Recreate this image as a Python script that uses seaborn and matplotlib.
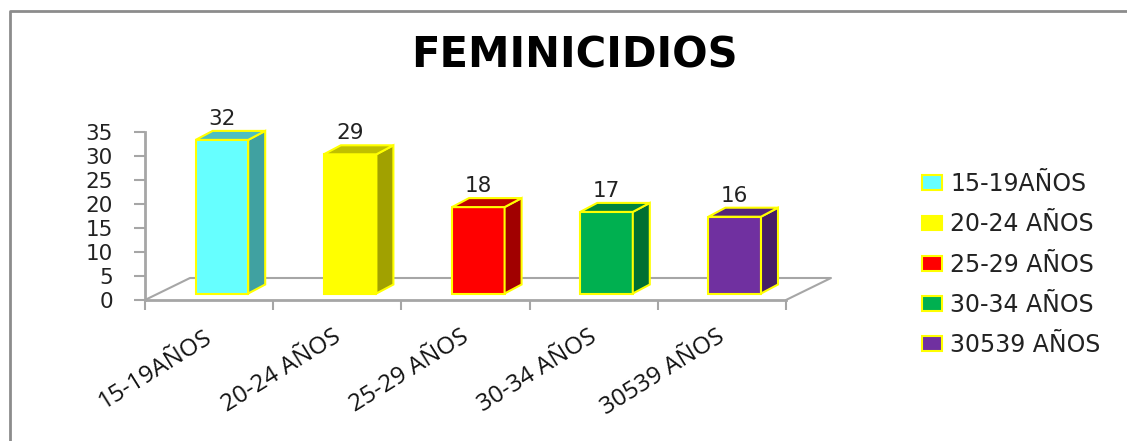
import matplotlib
matplotlib.use('Agg')
import matplotlib.pyplot as plt
from matplotlib.lines import Line2D
from matplotlib.transforms import ScaledTranslation
import numpy as np
import seaborn as sns

rangos = ['15-19AÑOS', '20-24 AÑOS', '25-29 AÑOS', '30-34 AÑOS', '30539 AÑOS']
casos = [32, 29, 18, 17, 16]
colores = ['#66FFFF', '#FFFF00', '#FF0000', '#00B050', '#7030A0']
yticks = [0, 5, 10, 15, 20, 25, 30, 35]

W, H = 1127, 441
sns.set_theme(style='white')
plt.rcParams['font.family'] = 'DejaVu Sans'

fig = plt.figure(figsize=(W / 100, H / 100), dpi=100)
ax = fig.add_axes([145 / W, 1 - 300 / H, 641 / W, 168 / H])

px_x = 5 / 641      # datos x por pixel
px_y = 35 / 168     # datos y por pixel
base = 6.5 * px_y   # la barra arranca un poco dentro del suelo

sns.barplot(x=rangos, y=casos, hue=rangos, palette=colores, dodge=False, width=0.41,
            saturation=1, edgecolor='#FFFF00', linewidth=1.5, ax=ax, legend=True)
ax.set_xlim(-0.6, 4.4)
ax.set_ylim(0, 35)

# caras laterales y superiores
dx = 17 * px_x
dy = 9 * px_y
for cont in ax.containers:
    for p in cont:
        p.set_y(base)
        x0 = p.get_x()
        x1 = x0 + p.get_width()
        y0 = p.get_y()
        y1 = y0 + p.get_height()
        c = np.array(p.get_facecolor()[:3])
        ax.fill([x1, x1 + dx, x1 + dx, x1], [y0, y0 + dy, y1 + dy, y1], color=c * 0.63,
                ec='#FFFF00', lw=1.5, clip_on=False, zorder=3)
        ax.fill([x0, x0 + dx, x1 + dx, x1], [y1, y1 + dy, y1 + dy, y1], color=c * 0.75,
                ec='#FFFF00', lw=1.5, clip_on=False, zorder=3)
    ax.bar_label(cont, labels=[f'{p.get_height():.0f}' for p in cont], padding=8,
                 fontsize=15.5, color='#222222')

# suelo en perspectiva
gris = '#A6A6A6'
fx, fy = 45 / 641, 22 / 168
ax.plot([0, fx, 1 + fx, 1], [0, fy, fy, 0], color=gris, lw=1.5, transform=ax.transAxes,
        clip_on=False, zorder=0)

for s in ['top', 'right']:
    ax.spines[s].set_visible(False)
for s in ['left', 'bottom']:
    ax.spines[s].set_color(gris)
    ax.spines[s].set_linewidth(2)

ax.set_yticks(yticks)
ax.tick_params(axis='y', length=8, width=1.5, color=gris, pad=15, labelsize=15.5, labelcolor='#222222', left=True)
ax.set_xticks(np.arange(6) - 0.6, minor=True)
ax.tick_params(axis='x', which='minor', length=7, width=1.5, color=gris, bottom=True)
ax.tick_params(axis='x', which='major', length=0, pad=18)
ax.set_xticks(range(5))
ax.set_xticklabels(rangos, rotation=32, ha='right', rotation_mode='anchor', fontsize=17.5,
                   family='Open Sans', color='#111111')
for t in ax.get_xticklabels():
    t.set_transform(t.get_transform() + ScaledTranslation(-0.18, 0, fig.dpi_scale_trans))

leg = ax.legend(loc='upper left', bbox_to_anchor=(922 / W, 1 - 172 / H), bbox_transform=fig.transFigure,
                frameon=False, fontsize=17, labelspacing=0.69, handlelength=0.85, handleheight=0.58,
                handletextpad=0.35, borderpad=0, borderaxespad=0)
for t in leg.get_texts():
    t.set_color('#222222')

fig.text(574 / W, 1 - 55 / H, 'FEMINICIDIOS', ha='center', va='center', fontsize=30,
         fontweight='bold', color='black')

# marco del grafico
fig.add_artist(Line2D([10 / W, 10 / W, 1], [0, 1 - 11 / H, 1 - 11 / H], color='#8C8C8C', lw=2,
                      transform=fig.transFigure))

fig.savefig('out.png', dpi=100)
